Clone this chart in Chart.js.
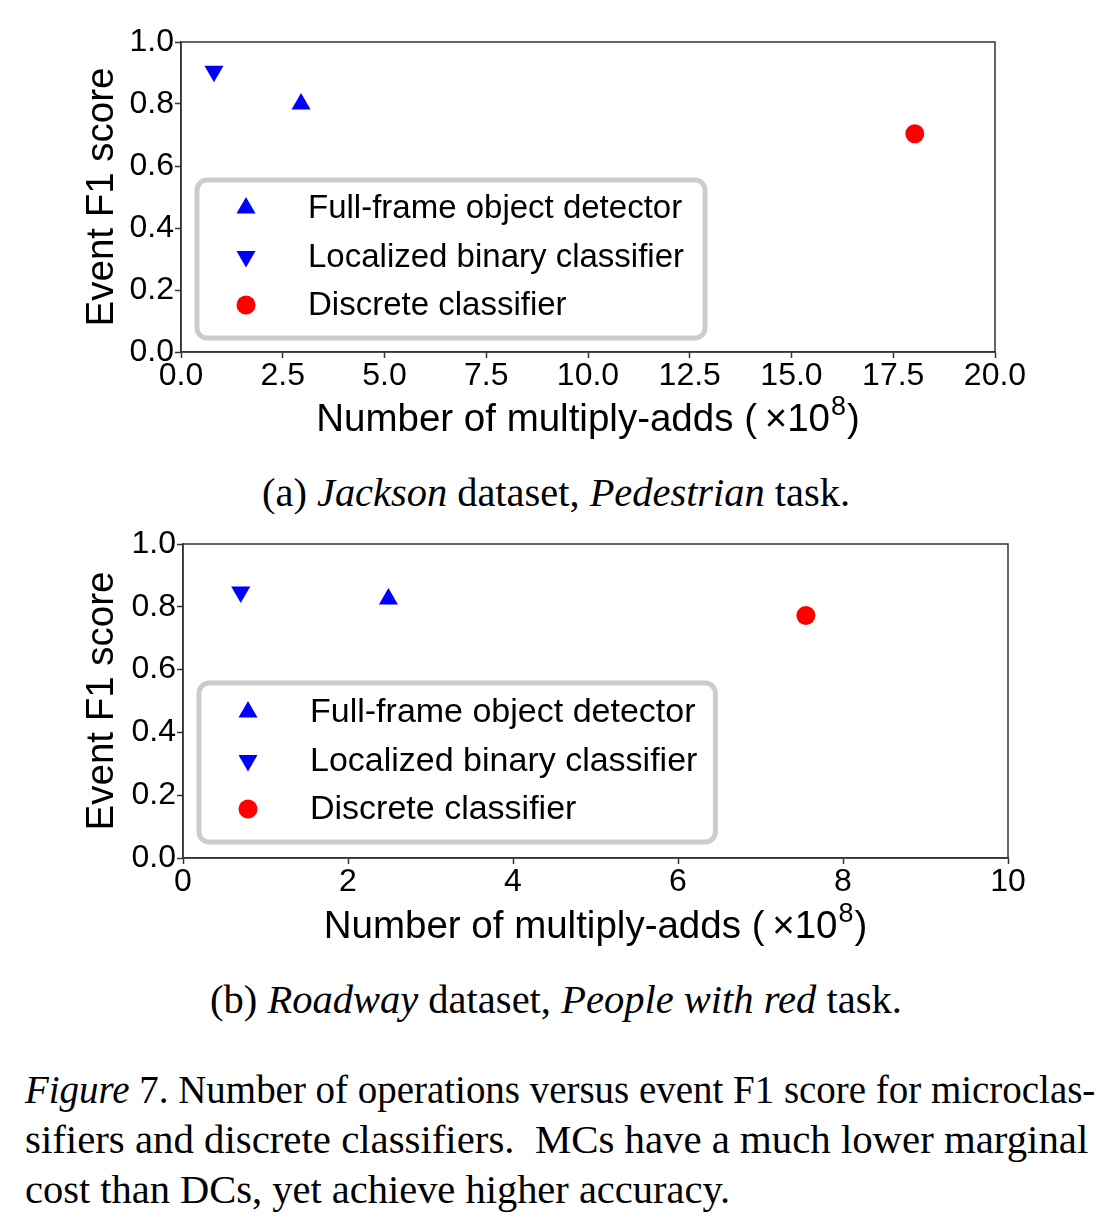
<!DOCTYPE html>
<html>
<head>
<meta charset="utf-8">
<title>Figure 7</title>
<script src="https://cdn.jsdelivr.net/npm/chart.js@4.4.0/dist/chart.umd.min.js"></script>
<style>
  body { margin: 0; background: #fff; width: 1116px; height: 1230px; position: relative; overflow: hidden; }
  canvas { position: absolute; left: 0; }
  .cap { position: absolute; font-family: "Liberation Serif", "DejaVu Serif", serif; font-size: 40px; line-height: 50px; white-space: nowrap; color: #000; transform-origin: 0 0; }
</style>
</head>
<body>
<canvas id="chartA" width="1116" height="450" style="top:0"></canvas>
<div class="cap" id="capA" style="top:468px">(a) <i>Jackson</i> dataset, <i>Pedestrian</i> task.</div>
<canvas id="chartB" width="1116" height="460" style="top:505px"></canvas>
<div class="cap" id="capB" style="top:975px">(b) <i>Roadway</i> dataset, <i>People with red</i> task.</div>
<div class="cap" id="fig1" style="top:1065px"><i>Figure</i> 7. Number of operations versus event F1 score for microclas-</div>
<div class="cap" id="fig2" style="top:1115px">sifiers and discrete classifiers.&nbsp; MCs have a much lower marginal</div>
<div class="cap" id="fig3" style="top:1165px">cost than DCs, yet achieve higher accuracy.</div>

<script>
// series names, shared by both panels
const seriesNames = ['Full-frame object detector', 'Localized binary classifier', 'Discrete classifier'];

// (a) Jackson / Pedestrian
const jacksonOps = [2.95, 0.81, 18.03];
const jacksonF1 = [0.80, 0.906, 0.704];
const jacksonOpsTicks = [0, 2.5, 5, 7.5, 10, 12.5, 15, 17.5, 20];
const jacksonOpsTickLabels = ['0.0', '2.5', '5.0', '7.5', '10.0', '12.5', '15.0', '17.5', '20.0'];

// (b) Roadway / People with red
const roadwayOps = [2.49, 0.70, 7.55];
const roadwayF1 = [0.825, 0.847, 0.772];
const roadwayOpsTicks = [0, 2, 4, 6, 8, 10];
const roadwayOpsTickLabels = ['0', '2', '4', '6', '8', '10'];

const f1Ticks = [0, 0.2, 0.4, 0.6, 0.8, 1.0];
const f1TickLabels = ['0.0', '0.2', '0.4', '0.6', '0.8', '1.0'];

const SANS = '"Liberation Sans", Arial, "DejaVu Sans", sans-serif';
const AXIS = '#333';

// marker look per series
const markers = [
    { color: '#0000ff', style: 'triangle', rotation: 0, radius: 11 },
    { color: '#0000ff', style: 'triangle', rotation: 180, radius: 11 },
    { color: '#ff0000', style: 'circle', rotation: 0, radius: 9.5 }
];

// full box round the plot, like matplotlib spines
const framePlugin = {
    id: 'frame',
    beforeDatasetsDraw(chart) {
        const { ctx, chartArea: a } = chart;
        ctx.save();
        ctx.strokeStyle = AXIS;
        ctx.lineWidth = 1.5;
        ctx.strokeRect(a.left, a.top, a.right - a.left, a.bottom - a.top);
        ctx.restore();
    }
};

// x title with a real superscript on the exponent
const xTitlePlugin = {
    id: 'xTitle',
    afterDraw(chart, args, o) {
        const { ctx, chartArea: a } = chart;
        const main = 'Number of multiply-adds (\u2009\u00d710';
        const sup = '8';
        const tail = ')';
        ctx.save();
        ctx.fillStyle = '#000';
        ctx.textBaseline = 'alphabetic';
        ctx.textAlign = 'left';
        ctx.font = o.size + 'px ' + SANS;
        const wMain = ctx.measureText(main).width;
        const wTail = ctx.measureText(tail).width;
        ctx.font = Math.round(o.size * 0.7) + 'px ' + SANS;
        const wSup = ctx.measureText(sup).width;
        const total = wMain + wSup + 2 + wTail;
        let x = (a.left + a.right) / 2 - total / 2;
        const base = chart.height - o.fromBottom + o.size * 0.36;
        ctx.font = o.size + 'px ' + SANS;
        ctx.fillText(main, x, base);
        x += wMain + 1;
        ctx.font = Math.round(o.size * 0.7) + 'px ' + SANS;
        ctx.fillText(sup, x, base - o.size * 0.4);
        x += wSup + 1;
        ctx.font = o.size + 'px ' + SANS;
        ctx.fillText(tail, x, base);
        ctx.restore();
    }
};

// legend in the lower left of the plot, with a rounded grey frame
const boxLegendPlugin = {
    id: 'boxLegend',
    afterDatasetsDraw(chart, args, o) {
        const { ctx, chartArea: a } = chart;
        ctx.save();
        ctx.font = o.fontSize + 'px ' + SANS;
        let maxW = 0;
        chart.data.datasets.forEach(ds => { maxW = Math.max(maxW, ctx.measureText(ds.label).width); });
        const w = o.textX + maxW + o.padRight;
        const h = o.height;
        const x = a.left + o.dx;
        const y = a.bottom - o.dy - h;

        ctx.beginPath();
        ctx.roundRect(x, y, w, h, 10);
        ctx.fillStyle = '#fff';
        ctx.fill();
        ctx.lineWidth = 5;
        ctx.strokeStyle = '#cccccc';
        ctx.stroke();

        chart.data.datasets.forEach((ds, i) => {
            const cy = y + o.firstRow + i * o.rowH;
            ctx.fillStyle = ds.backgroundColor;
            ctx.strokeStyle = ds.backgroundColor;
            Chart.helpers.drawPoint(ctx, {
                pointStyle: ds.pointStyle,
                rotation: ds.pointRotation,
                radius: ds.pointRadius,
                borderWidth: 0
            }, x + o.markerX, cy);
            ctx.fillStyle = '#000';
            ctx.textBaseline = 'middle';
            ctx.textAlign = 'left';
            ctx.fillText(ds.label, x + o.textX, cy + 1);
        });
        ctx.restore();
    }
};

function makeChart(id, ops, f1, xTicks, xLabels, g) {
    const datasets = seriesNames.map((name, i) => ({
        label: name,
        data: [{ x: ops[i], y: f1[i] }],
        backgroundColor: markers[i].color,
        borderColor: markers[i].color,
        borderWidth: 0,
        pointStyle: markers[i].style,
        pointRotation: markers[i].rotation,
        pointRadius: markers[i].radius,
        pointHoverRadius: markers[i].radius
    }));

    return new Chart(document.getElementById(id), {
        type: 'scatter',
        data: { datasets },
        plugins: [framePlugin, boxLegendPlugin, xTitlePlugin],
        options: {
            responsive: false,
            animation: false,
            devicePixelRatio: 1,
            layout: { padding: { left: 0, top: g.top, right: g.right, bottom: 0 } },
            plugins: {
                legend: { display: false },
                tooltip: { enabled: false },
                boxLegend: g.legend,
                xTitle: { size: g.titleSize, fromBottom: g.xTitleFromBottom }
            },
            scales: {
                x: {
                    type: 'linear',
                    min: xTicks[0],
                    max: xTicks[xTicks.length - 1],
                    afterBuildTicks: s => { s.ticks = xTicks.map(v => ({ value: v })); },
                    afterFit: s => { s.height = g.xAxisH; },
                    ticks: {
                        callback: (v, i) => xLabels[i],
                        font: { family: SANS, size: g.tickSize },
                        color: '#000',
                        padding: g.xTickPad,
                        maxRotation: 0,
                        autoSkip: false
                    },
                    grid: { drawOnChartArea: false, tickLength: 6, color: AXIS, tickWidth: 1.5 },
                    border: { color: AXIS, width: 1.5 },
                    title: { display: false }
                },
                y: {
                    type: 'linear',
                    min: 0,
                    max: 1,
                    afterBuildTicks: s => { s.ticks = f1Ticks.map(v => ({ value: v })); },
                    afterFit: s => { s.width = g.left; },
                    ticks: {
                        callback: (v, i) => f1TickLabels[i],
                        font: { family: SANS, size: g.tickSize },
                        color: '#000',
                        padding: 1,
                        autoSkip: false
                    },
                    grid: { drawOnChartArea: false, tickLength: 6, color: AXIS, tickWidth: 1.5 },
                    border: { color: AXIS, width: 1.5 },
                    title: {
                        display: true,
                        text: 'Event F1 score',
                        font: { family: SANS, size: g.titleSize },
                        color: '#000',
                        padding: { top: 79, bottom: 0 }
                    }
                }
            }
        }
    });
}

makeChart('chartA', jacksonOps, jacksonF1, jacksonOpsTicks, jacksonOpsTickLabels, {
    top: 42, right: 121, left: 181, xAxisH: 98, tickSize: 32, titleSize: 38.5,
    xTickPad: -1, xTitleFromBottom: 33,
    legend: { dx: 16, dy: 14, height: 158, fontSize: 33, rowH: 48.5, firstRow: 28, markerX: 49, textX: 111, padRight: 21 }
});

makeChart('chartB', roadwayOps, roadwayF1, roadwayOpsTicks, roadwayOpsTickLabels, {
    top: 39, right: 108, left: 183, xAxisH: 107, tickSize: 32, titleSize: 38.5,
    xTickPad: -1, xTitleFromBottom: 41,
    legend: { dx: 16, dy: 16, height: 159, fontSize: 34, rowH: 48.5, firstRow: 29, markerX: 49, textX: 111, padRight: 18 }
});

// squeeze caption lines to the widths they take in the figure
[['capA', 262, 588], ['capB', 210, 692], ['fig1', 25, 1070], ['fig2', 25, 1063], ['fig3', 25, 705]].forEach(([id, left, width]) => {
    const el = document.getElementById(id);
    el.style.left = left + 'px';
    el.style.transform = 'scaleX(' + (width / el.offsetWidth) + ')';
});
</script>
</body>
</html>
